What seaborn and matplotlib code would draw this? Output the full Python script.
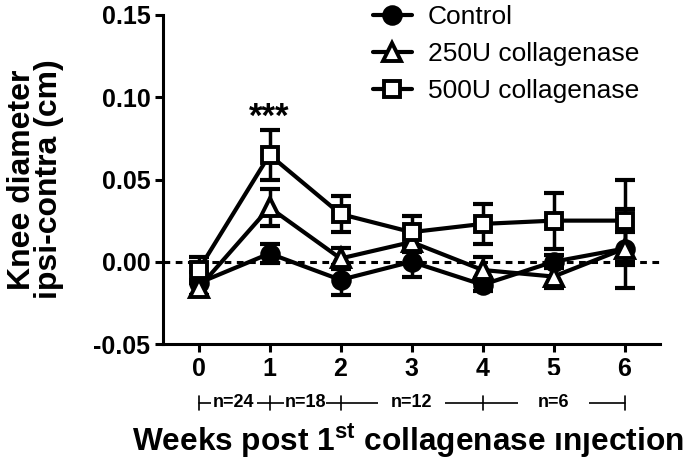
import matplotlib
matplotlib.use("Agg")
import matplotlib.pyplot as plt
import matplotlib.transforms as mtransforms
import numpy as np
import pandas as pd
import seaborn as sns

# ---- data ----
weeks = [0, 1, 2, 3, 4, 5, 6]
series_names = ["Control", "250U collagenase", "500U collagenase"]
control_mean = [-0.013, 0.005, -0.011, 0.000, -0.014, 0.000, 0.008]
control_sem = [0.007, 0.006, 0.009, 0.009, 0.004, 0.004, 0.010]
u250_mean = [-0.016, 0.033, 0.002, 0.012, -0.005, -0.009, 0.008]
u250_sem = [0.005, 0.011, 0.0065, 0.006, 0.008, 0.007, 0.024]
u500_mean = [-0.005, 0.065, 0.029, 0.018, 0.023, 0.025, 0.025]
u500_sem = [0.008, 0.015, 0.011, 0.010, 0.012, 0.017, 0.025]
n_labels = ["n=24", "n=18", "n=12", "n=6"]
n_label_pos = [0.5, 1.5, 3.0, 5.0]
n_ticks = [0, 1, 2, 4, 6]
yticks = [-0.05, 0.00, 0.05, 0.10, 0.15]

means = [control_mean, u250_mean, u500_mean]
sems = [control_sem, u250_sem, u500_sem]
markers = ["o", "^", "s"]
facecolors = ["black", "white", "white"]

rows = []
for name, m, s in zip(series_names, means, sems):
    for w, mv, sv in zip(weeks, m, s):
        rows.append({"week": w, "value": mv, "sem": sv, "group": name})
df = pd.DataFrame(rows)

sns.set_style("ticks", {"axes.edgecolor": "black", "text.color": "black",
                        "axes.labelcolor": "black", "xtick.color": "black",
                        "ytick.color": "black"})
plt.rcParams["font.family"] = ["Liberation Sans", "DejaVu Sans"]
plt.rcParams["mathtext.fontset"] = "custom"
plt.rcParams["mathtext.rm"] = "Liberation Sans"
plt.rcParams["mathtext.bf"] = "Liberation Sans:bold"

fig = plt.figure(figsize=(6.85, 4.59), dpi=100)
ax = fig.add_axes([163 / 685, 1 - 344 / 459, (660 - 163) / 685, (344 - 15) / 459])

ax.axhline(0, color="black", lw=2.2, ls=(0, (2.2, 1.8)), zorder=1)

for i, name in enumerate(series_names):
    sub = df[df["group"] == name]
    ax.errorbar(sub["week"], sub["value"], yerr=sub["sem"], fmt="none",
                ecolor="black", elinewidth=2.5, capsize=7, capthick=3,
                zorder=2 + i * 0.1)
for i, name in enumerate(series_names):
    sub = df[df["group"] == name]
    sns.lineplot(data=sub, x="week", y="value", ax=ax, color="black",
                 marker=markers[i], markersize=12 if markers[i] != "^" else 13,
                 markerfacecolor=facecolors[i], markeredgecolor="black",
                 markeredgewidth=2.8, linewidth=3, label=name,
                 errorbar=None, zorder=3 + i * 0.1)

ax.set_xlim(-0.5, 6.5)
ax.set_ylim(-0.05, 0.15)
ax.set_xticks(weeks)
ax.set_xticklabels([str(w) for w in weeks])
ax.set_yticks(yticks)
ax.set_yticklabels([f"{v:.2f}" for v in yticks])
for lab in ax.get_xticklabels() + ax.get_yticklabels():
    lab.set_fontweight("bold")
    lab.set_fontsize(18)
    lab.set_color("black")
ax.tick_params(width=2.2, length=6, color="black", labelcolor="black", pad=3)
for sp in ["left", "bottom"]:
    ax.spines[sp].set_linewidth(2.2)
    ax.spines[sp].set_color("black")
for sp in ["top", "right"]:
    ax.spines[sp].set_visible(False)

ax.set_ylabel("Knee diameter\nipsi-contra (cm)", fontsize=23, fontweight="bold",
              labelpad=21, linespacing=0.9, color="black")
ax.set_xlabel("Weeks post 1$^{\\mathbf{st}}$ collagenase injection", fontsize=22.8,
              fontweight="bold", color="black")
ax.xaxis.set_label_coords((408 - 163) / (660 - 163), -(451 - 344) / (344 - 15))
ax.xaxis.label.set_va("baseline")

# significance
ax.text(1, 0.078, "***", ha="center", va="bottom", fontsize=25, fontweight="bold",
        color="black")

# n annotation bracket
trans = mtransforms.blended_transform_factory(ax.transData, ax.transAxes)
yb = -0.179
ax.plot([n_ticks[0], n_ticks[-1]], [yb, yb], transform=trans, color="black",
        lw=1.2, clip_on=False, zorder=1)
for t in n_ticks:
    ax.plot([t, t], [yb - 0.022, yb + 0.022], transform=trans, color="black",
            lw=1.2, clip_on=False)
pads = [0.1, 0.02, 0.7, 1.1]
for lab, xp, pd_ in zip(n_labels, n_label_pos, pads):
    ax.text(xp, yb, lab, transform=trans, ha="center", va="center", fontsize=13,
            fontweight="bold", zorder=5, color="black",
            bbox=dict(boxstyle=f"square,pad={pd_}", fc="white", ec="none"))

h, l = ax.get_legend_handles_labels()
leg = ax.legend(h, l, loc="upper left", bbox_to_anchor=(362 / 685, 1.012),
                bbox_transform=fig.transFigure, frameon=False, fontsize=19,
                handlelength=1.5, handletextpad=0.6, labelspacing=0.5,
                borderaxespad=0, labelcolor="black")

fig.savefig("out.png", dpi=100)
